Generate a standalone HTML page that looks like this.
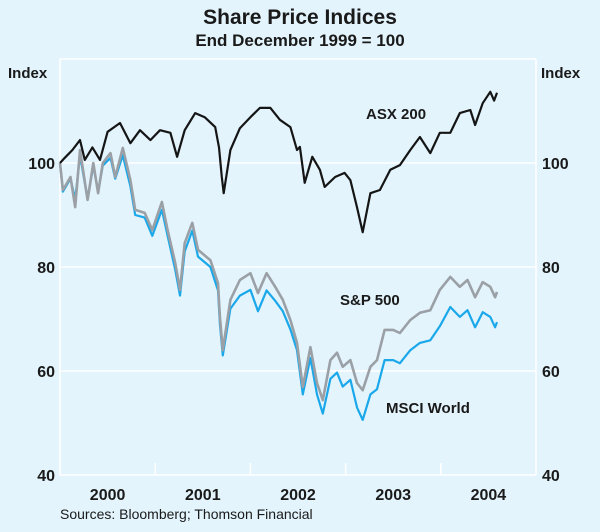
<!DOCTYPE html>
<html><head><meta charset="utf-8"><style>
body{margin:0;background:#e3f4fc;}
svg{display:block;font-family:"Liberation Sans",sans-serif;}
</style></head><body>
<svg id="chart" width="600" height="532" viewBox="0 0 600 532">
<rect x="0" y="0" width="600" height="532" fill="#e3f4fc"/>
<text x="300" y="24" text-anchor="middle" font-size="21" font-weight="bold" fill="#1a1a1a">Share Price Indices</text>
<text x="300" y="46" text-anchor="middle" font-size="17" font-weight="bold" fill="#1a1a1a">End December 1999 = 100</text>
<text x="8" y="78" font-size="15" font-weight="bold" fill="#1a1a1a">Index</text>
<text x="541" y="78" font-size="15" font-weight="bold" fill="#1a1a1a">Index</text>
<g id="grid"></g><g id="series"></g><g id="labels"></g>
<text x="366" y="119" font-size="15" font-weight="bold" fill="#1a1a1a">ASX 200</text>
<text x="340" y="305" font-size="15" font-weight="bold" fill="#1a1a1a">S&amp;P 500</text>
<text x="386" y="413" font-size="15" font-weight="bold" fill="#1a1a1a">MSCI World</text>
<text x="60" y="519" font-size="14" fill="#1a1a1a">Sources: Bloomberg; Thomson Financial</text>
</svg>
<script>
const yTicks=[40,60,80,100];
const yearLabels=["2000","2001","2002","2003","2004"];
const asxYears=[0,.05,.13,.21,.26,.34,.42,.50,.63,.74,.84,.95,1.05,1.16,1.23,1.31,1.42,1.52,1.63,1.67,1.70,1.72,1.79,1.89,2.00,2.10,2.21,2.31,2.42,2.49,2.52,2.57,2.65,2.73,2.78,2.89,2.99,3.05,3.12,3.18,3.26,3.36,3.47,3.57,3.68,3.78,3.89,3.99,4.10,4.20,4.31,4.36,4.44,4.52,4.56,4.59];
const asxValues=[100,101,102.5,104.4,100.6,103,100.6,106,107.7,103.8,106.3,104.4,106.3,105.8,101.2,106.3,109.6,108.8,106.9,103,97.3,94.2,102.5,106.7,108.8,110.6,110.6,108.3,106.9,102.5,103.1,96.2,101.2,98.7,95.4,97.3,98.1,96.7,91.5,86.7,94.2,94.8,98.7,99.6,102.5,105,101.9,105.8,105.8,109.6,110.2,107.3,111.5,113.7,112,113.5];
const worldYears=[0,.03,.11,.16,.21,.29,.35,.40,.45,.53,.58,.66,.74,.79,.89,.97,1.07,1.13,1.21,1.26,1.31,1.39,1.45,1.58,1.66,1.68,1.71,1.79,1.89,2.00,2.08,2.17,2.26,2.34,2.42,2.49,2.55,2.63,2.70,2.76,2.84,2.91,2.97,3.05,3.12,3.18,3.26,3.33,3.41,3.50,3.57,3.68,3.78,3.89,3.99,4.10,4.20,4.28,4.36,4.44,4.52,4.57,4.59];
const spValues=[100,94.8,97.3,91.5,102.5,92.9,100,94.2,100,101.9,97.3,102.9,96.7,91,90.4,87.1,92.5,87.1,80.8,75.6,84.6,88.5,83.3,81.3,76.9,70.4,64,73.7,77.5,78.8,75,78.8,76.2,73.7,69.8,65.4,56.9,64.6,57.7,54.4,62.1,63.5,60.8,62.1,57.7,56.3,60.8,62.1,67.9,67.9,67.3,69.8,71.2,71.7,75.6,78.1,76.2,77.5,74.2,77.1,76.2,74.2,75.2];
const msciValues=[100,94.5,97,93,101.5,93,99.5,94.5,99.5,101,97,101.5,95.5,90,89.5,86,91,86,79.5,74.5,83,87,82,80,75.5,69,63,72,74.5,75.6,71.5,75.5,73.5,71.5,68,64,55.5,62.5,55.5,51.8,58.5,59.7,57,58.3,53,50.6,55.5,56.5,62.1,62.1,61.5,64,65.4,65.9,68.6,72.3,70.4,71.7,68.4,71.3,70.4,68.4,69.4];
const NS="http://www.w3.org/2000/svg";
const L=60,R=536,T=59,B=475;
function xs(t){return L+t*(R-L)/5;}
function ys(v){return B-(v-40)*(B-T)/80;}
function mk(tag,parent,attrs){const e=document.createElementNS(NS,tag);for(const k in attrs)e.setAttribute(k,attrs[k]);parent.appendChild(e);return e;}
const grid=document.getElementById('grid'),labels=document.getElementById('labels'),series=document.getElementById('series');
yTicks.forEach(v=>{
  if(v>40){const g=mk('line',grid,{x1:L,x2:R,y1:ys(v),y2:ys(v),stroke:'#fff','stroke-width':1.5});
  
  }
  const a=mk('text',labels,{x:L-5,y:ys(v)+6,'text-anchor':'end','font-size':16,'font-weight':'bold',fill:'#1a1a1a'});a.textContent=v;
  
  
  const b=mk('text',labels,{x:R+6,y:ys(v)+6,'font-size':16,'font-weight':'bold',fill:'#1a1a1a'});b.textContent=v;
  
  
});
[[L,T,R,T],[L,T,L,B],[R,T,R,B],[L,B,R,B]].forEach((c,i)=>{const e=mk('line',grid,{x1:c[0],y1:c[1],x2:c[2],y2:c[3],stroke:'#fff','stroke-width':1.5});
  
  });
yearLabels.forEach((s,i)=>{
  if(i>0){const t=mk('line',grid,{x1:xs(i),x2:xs(i),y1:B,y2:B-12,stroke:'#fff','stroke-width':1.5});
  
  }
  const e=mk('text',labels,{x:xs(i+0.5),y:500,'text-anchor':'middle','font-size':16,'font-weight':'bold',fill:'#1a1a1a'});e.textContent=s;
  
  
});
function line(years,vals,color,w){return years.map((t,i)=>(i?'L':'M')+xs(t).toFixed(1)+','+ys(vals[i]).toFixed(1)).join('');}
const p1=mk('path',series,{d:line(worldYears,msciValues),fill:'none',stroke:'#1aa8ea','stroke-width':2.2,'stroke-linejoin':'round'});


const p2=mk('path',series,{d:line(worldYears,spValues),fill:'none',stroke:'#9aa0a6','stroke-width':2.6,'stroke-linejoin':'round'});


const p3=mk('path',series,{d:line(asxYears,asxValues),fill:'none',stroke:'#151515','stroke-width':2.2,'stroke-linejoin':'round'});


</script>
</body></html>
